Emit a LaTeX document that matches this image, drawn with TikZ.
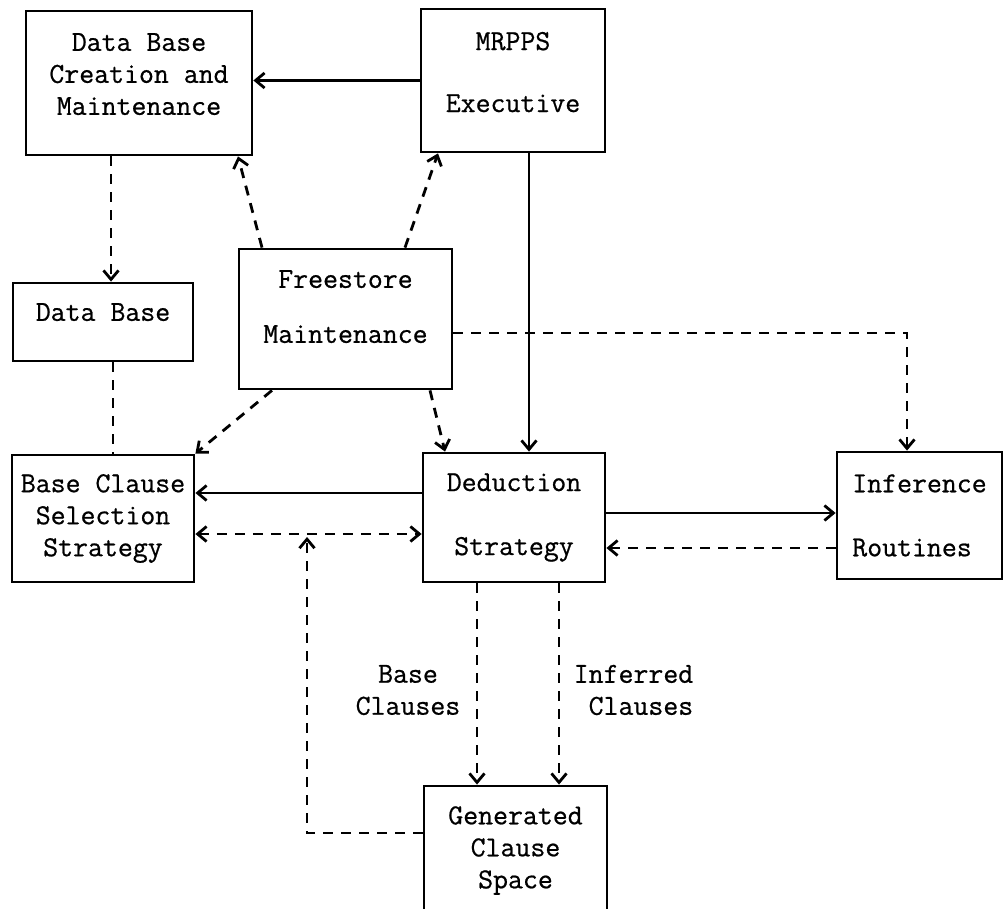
\documentclass[tikz,border=0pt]{standalone}
\usepackage{fontspec}
\newfontfamily\typefont{Latin Modern Mono}[FakeBold=0.7]
\usepackage{tikz}
\usetikzlibrary{arrows.meta,positioning,calc}

\begin{document}
\begin{tikzpicture}[
    x=1pt, y=-1pt,
    >={Straight Barb[length=9pt,width=15pt]},
    line width=2.8pt,
    every node/.style={font=\fontsize{29}{32}\selectfont\typefont},
    box/.style={draw, line width=2.8pt, align=center, inner sep=0pt},
    dline/.style={dash pattern=on 10pt off 8pt},
]
\useasboundingbox (0,0) rectangle (1004,909);

% --- Top row ---
\node[box, minimum width=226, minimum height=144, text depth=18pt] (dbcm)
    at (139,83) {Data Base\\Creation and\\Maintenance};
\node[box, minimum width=184, minimum height=143, text depth=17pt] (mrpps)
    at (513,80.5) {MRPPS\\[30pt]Executive};

% --- Second row ---
\node[box, minimum width=180, minimum height=78, text depth=20pt] (database)
    at (103,322) {Data Base};
\node[box, minimum width=213, minimum height=140, text depth=25pt] (freestore)
    at (345.5,319) {Freestore\\[23pt]Maintenance};

% --- Middle row ---
\node[box, minimum width=182, minimum height=127] (bcss)
    at (103,518.5) {Base Clause\\Selection\\Strategy};
\node[box, minimum width=182, minimum height=129] (deduct)
    at (514,517.5) {Deduction\\[32pt]Strategy};
\node[box, minimum width=165, minimum height=127, align=left] (infer)
    at (919.5,515.5) {Inference\\[32pt]Routines};

% --- Bottom ---
\node[box, minimum width=183, minimum height=129] (gen)
    at (515.5,850.5) {Generated\\Clause\\Space};
\coordinate (merge) at (307,537);

% --- Solid arrows ---
\draw[->] (mrpps.west) -- (mrpps.west -| dbcm.east);
\draw[->] ([xshift=16pt]mrpps.south) -- ([xshift=16pt]mrpps.south |- deduct.north);
\draw[->] ([yshift=24.5pt]deduct.west) -- ([yshift=24.5pt]deduct.west -| bcss.east);
\draw[->] ([yshift=4.5pt]deduct.east) -- ([yshift=4.5pt]deduct.east -| infer.west);

% --- Dashed arrows ---
\draw[dline, ->] ([xshift=-28pt]dbcm.south) -- ([xshift=-28pt]dbcm.south |- database.north);
\draw[dline] ([xshift=10pt]database.south) -- ([xshift=10pt]database.south |- bcss.north);
\draw[dline, ->] ([xshift=-83.5pt]freestore.north) -- ([xshift=99pt]dbcm.south);
\draw[dline, ->] ([xshift=59.5pt]freestore.north) -- ([xshift=-75pt]mrpps.south);
\draw[dline, ->] ([yshift=-14pt]freestore.east) -| ([xshift=-12.5pt]infer.north);
\draw[dline, ->] ([xshift=-73.5pt]freestore.south) -- (bcss.north east);
\draw[dline, ->] ([xshift=84.5pt]freestore.south) -- ([xshift=-69pt]deduct.north);
\draw[dline, <->] ([yshift=-15.5pt]bcss.east) -- ([yshift=-15.5pt]bcss.east -| deduct.west);
\draw[dline, ->] ([yshift=-32.5pt]infer.west) -- ([yshift=-32.5pt]infer.west -| deduct.east);
\draw[dline, ->] ([xshift=-37pt]deduct.south)
    -- node[left=12pt, pos=0.53, align=center] (baselbl) {Base\\Clauses}
    ([xshift=-37pt]deduct.south |- gen.north);
\draw[dline, ->] ([xshift=45pt]deduct.south)
    -- node[right=10pt, pos=0.53, align=right] (inferlbl) {Inferred\\Clauses}
    ([xshift=45pt]deduct.south |- gen.north);
\draw[dline, ->] ([yshift=17.5pt]gen.west) -| (merge);

\end{tikzpicture}
\end{document}
